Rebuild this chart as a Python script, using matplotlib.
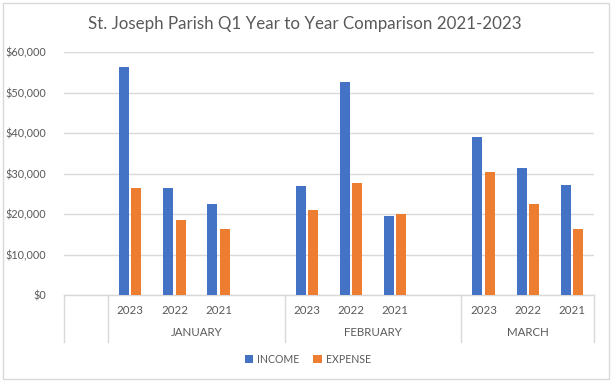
import numpy as np
import matplotlib.pyplot as plt
from matplotlib.patches import Rectangle
from matplotlib.ticker import FuncFormatter

plt.rcParams['font.family'] = ['Lato', 'DejaVu Sans']

months = ['JANUARY', 'FEBRUARY', 'MARCH']
years = ['2023', '2022', '2021']
income = [56300, 26400, 22500, 26900, 52600, 19500, 39000, 31400, 27200]
expense = [26400, 18500, 16300, 21000, 27700, 20000, 30400, 22500, 16300]

blue = '#4472C4'
orange = '#ED7D31'
grey_txt = '#595959'
grid_c = '#D9D9D9'

# slot layout like excel: blank row, then each month with 3 years + blank row (last month no trailing blank)
slots = []
pos = 1
for m in range(len(months)):
    for y in range(len(years)):
        slots.append(pos)
        pos += 1
    pos += 1
n_slots = pos - 1
x = np.array(slots, dtype=float)

fig = plt.figure(figsize=(6.13, 3.84), dpi=100)
ax = fig.add_axes([64/613, 1-295/384, (594-64)/613, (295-52)/384])

w = 0.226
off = 0.14
ax.bar(x - off, income, width=w, color=blue, label='INCOME', zorder=3)
ax.bar(x + off, expense, width=w, color=orange, label='EXPENSE', zorder=3)

ax.set_xlim(-0.5, n_slots - 0.5)
ax.set_ylim(0, 60000)
ax.set_yticks(np.arange(0, 60001, 10000))
ax.yaxis.set_major_formatter(FuncFormatter(lambda v, p: f'${v:,.0f}'))
ax.tick_params(axis='y', length=0, pad=13, labelsize=7.8, labelcolor=grey_txt)
ax.set_xticks([])
ax.grid(axis='y', color=grid_c, linewidth=1, zorder=0)
for s in ['top', 'right', 'left']:
    ax.spines[s].set_visible(False)
ax.spines['bottom'].set_color(grid_c)
ax.spines['bottom'].set_linewidth(1)

tr = ax.get_xaxis_transform()
# year labels
for i, xi in enumerate(x):
    ax.text(xi, -0.062, years[i % len(years)], transform=tr, ha='center', va='center',
            fontsize=8.3, color=grey_txt)
# month labels and separators
bounds = [-0.5, 0.5]
for m in range(len(months)):
    first = x[m*len(years)] - 0.5
    last = min(x[m*len(years) + len(years) - 1] + 1.5, n_slots - 0.5)
    ax.text((first + last) / 2, -0.156, months[m], transform=tr, ha='center', va='center',
            fontsize=8.3, color=grey_txt)
    bounds.append(last)
for b in bounds:
    ax.plot([b, b], [0, -0.193], transform=tr, color=grid_c, linewidth=1, clip_on=False)

ax.legend(loc='center', bbox_to_anchor=(0.502, 0.065), bbox_transform=fig.transFigure,
          ncol=2, frameon=False, fontsize=7.6, handlelength=0.8, handleheight=0.8,
          handletextpad=0.4, columnspacing=1.3, labelcolor=grey_txt)

fig.text(0.497, 0.937, 'St. Joseph Parish Q1 Year to Year Comparison 2021-2023',
         ha='center', va='center', fontsize=12.2, color=grey_txt)

fig.patches.append(Rectangle((3/613, 1-379/384), 606/613, 376/384, transform=fig.transFigure,
                             fill=False, edgecolor=grid_c, linewidth=1))

fig.savefig('out.png', dpi=100)
